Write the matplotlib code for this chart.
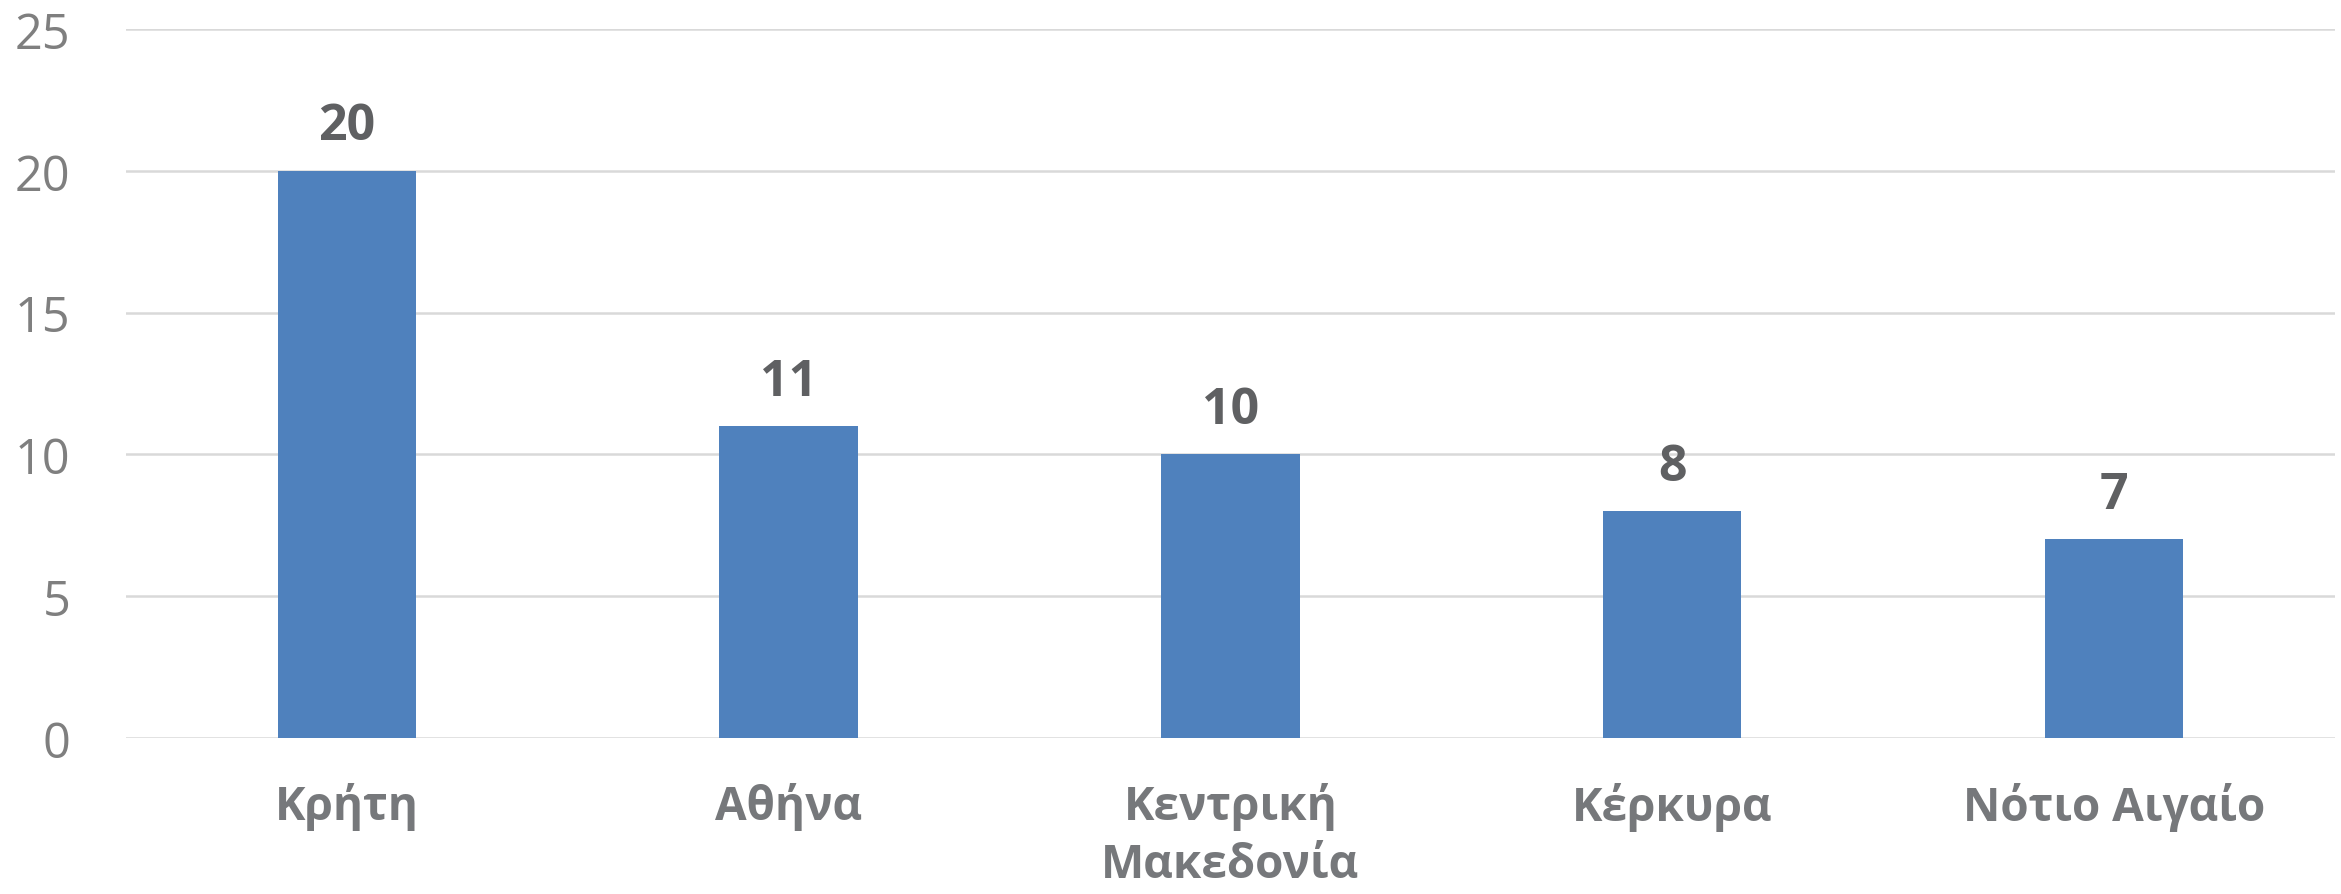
import matplotlib.pyplot as plt
import numpy as np

plt.rcParams['font.family'] = ['Open Sans', 'DejaVu Sans']

regions = ["Κρήτη", "Αθήνα", "Κεντρική\nΜακεδονία", "Κέρκυρα", "Νότιο Αιγαίο"]
counts = [20, 11, 10, 8, 7]
y_ticks = [0, 5, 10, 15, 20, 25]

BAR = "#4F81BD"
GRID = "#D9D9D9"
TICK = "#7F7F7F"
CAT = "#76787B"
VALUE = "#5F6062"


def main():
    fig = plt.figure(figsize=(23.41, 8.95), dpi=100)
    ax = fig.add_axes([0.0538, 0.1743, 0.9436, 0.7922])

    x = np.arange(len(regions))
    bars = ax.bar(x, counts, width=0.313, color=BAR, zorder=3)

    for rect, v in zip(bars, counts):
        ax.annotate(str(v), (rect.get_x() + rect.get_width() / 2, v),
                    xytext=(0, 14), textcoords="offset points",
                    ha="center", va="bottom", fontsize=36, fontweight="bold",
                    color=VALUE)

    ax.set_xlim(-0.5, len(regions) - 0.5)
    ax.set_ylim(0, 25)
    ax.set_yticks(y_ticks)
    ax.set_yticklabels([str(t) for t in y_ticks], fontsize=35, color=TICK)
    ax.set_xticks(x)
    ax.set_xticklabels(regions, fontsize=33, fontweight="bold", color=CAT,
                       linespacing=1.3, va="top")

    ax.yaxis.grid(True, color=GRID, linewidth=1.8, zorder=0)
    ax.tick_params(axis="y", length=0, pad=40)
    ax.tick_params(axis="x", length=0, pad=32)
    for s in ax.spines.values():
        s.set_visible(False)

    fig.savefig("out.png", dpi=100)
    plt.close(fig)


if __name__ == "__main__":
    main()
